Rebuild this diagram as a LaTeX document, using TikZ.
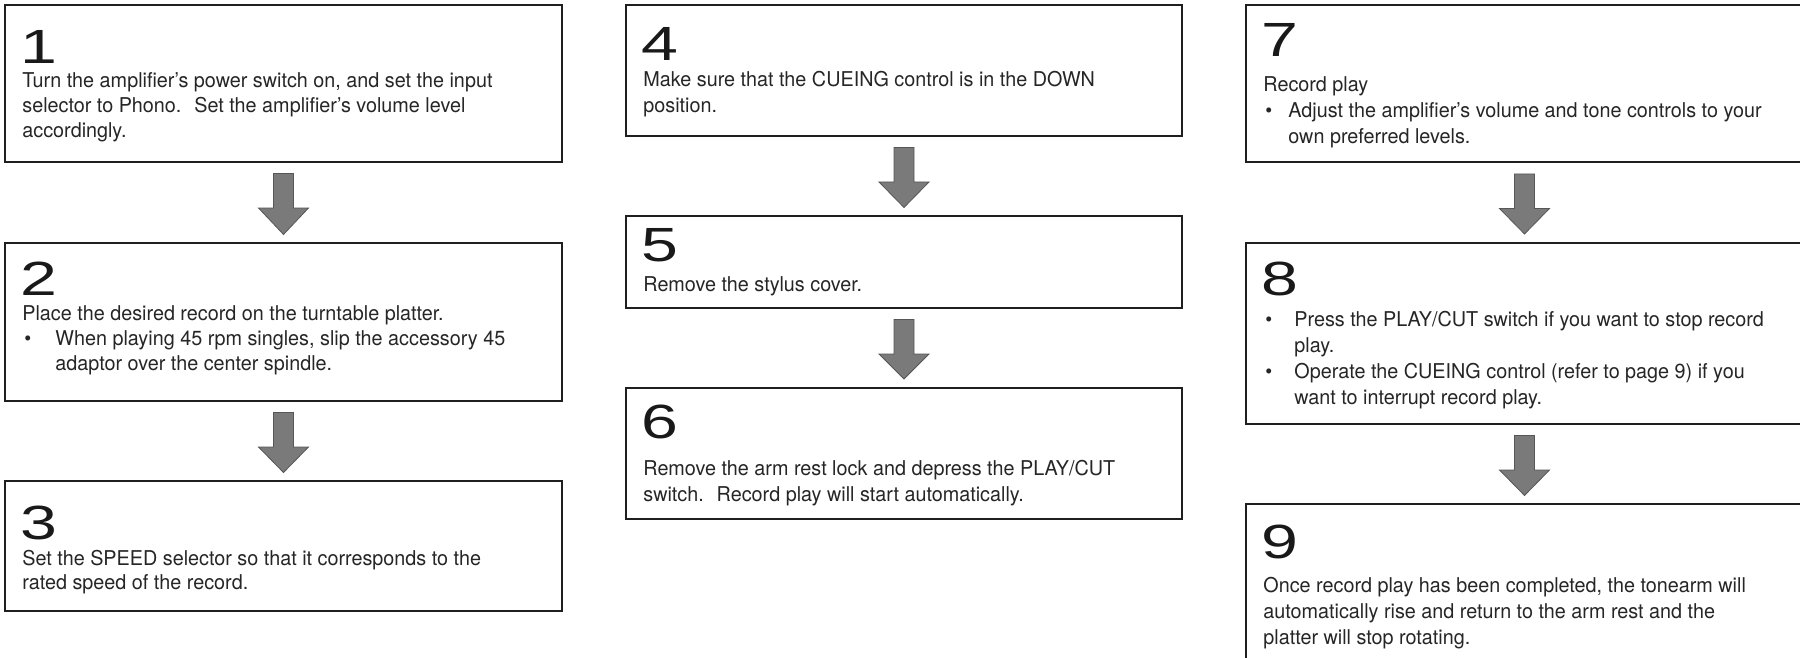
\documentclass[tikz,border=0pt]{standalone}
\usepackage{fontspec}
\setmainfont{TeX Gyre Heros}[FakeStretch=0.97]
\newfontfamily\digitfont{Liberation Sans}[FakeStretch=1.38]
\usetikzlibrary{calc}

\newcommand\Ln[1]{\hbox{#1}}
\newcommand\Bl[2][16.5pt]{\hbox{\makebox[#1][l]{\kern1pt\textbullet}#2}}
\newcommand\Ind[2][16.5pt]{\hbox{\kern#1#2}}
\newcommand\Body[2]{\vtop{\baselineskip=#1\lineskiplimit=-20pt\lineskip=0pt #2}}

\newcommand\barrow[2]{%
  \fill[arrowfill] ($(#1.south)+(-10,11.5)$) -- ($(#1.south)+(10,11.5)$)
    -- ($(#1.south)+(10,46)$) -- ($(#1.south)+(25,46)$)
    -- ($(#2.north)+(0,-8.5)$)
    -- ($(#1.south)+(-25,46)$) -- ($(#1.south)+(-10,46)$) -- cycle;}

\tikzset{
  stepbox/.style={draw=black!88, line width=1pt, rectangle, inner sep=0pt,
    outer sep=0pt, anchor=north west},
  digit/.style={font=\digitfont\fontsize{24}{25}\selectfont, inner sep=0pt,
    anchor=base west, text=black!90},
  bodytext/.style={font=\fontsize{10.2}{12}\selectfont, inner sep=0pt,
    anchor=base west, text=black!85},
  arrowfill/.style={fill=black!52, draw=black!66, line width=0.4pt}
}

\begin{document}
\begin{tikzpicture}[x=0.5pt,y=-0.5pt]
\useasboundingbox (0,0) rectangle (1800,658);
\fill[white] (0,0) rectangle (1800,658);
\clip (0,0) rectangle (1800,658);

% ---------- column 1 ----------
\node[stepbox, minimum width=278.5pt, minimum height=78.5pt] (b1) at (5,5) {};
\node[digit] (n1) at (20,64) {1};
\node[bodytext] (t1) at (22,88) {\Body{12.3pt}{%
  \Ln{Turn the amplifier’s power switch on, and set the input}%
  \Ln{selector to Phono.~ Set the amplifier’s volume level}%
  \Ln{accordingly.}}};

\node[stepbox, minimum width=278.5pt, minimum height=79pt] (b2) at (5,243) {};
\node[digit] (n2) at (20,295) {2};
\node[bodytext] (t2) at (22,320) {\Body{12.5pt}{%
  \Ln{Place the desired record on the turntable platter.}%
  \Bl{When playing 45 rpm singles, slip the accessory 45}%
  \Ind{adaptor over the center spindle.}}};

\node[stepbox, minimum width=278.5pt, minimum height=65pt] (b3) at (5,481) {};
\node[digit] (n3) at (20,539) {3};
\node[bodytext] (t3) at (22,565) {\Body{12pt}{%
  \Ln{Set the SPEED selector so that it corresponds to the}%
  \Ln{rated speed of the record.}}};

% ---------- column 2 ----------
\node[stepbox, minimum width=278pt, minimum height=65.5pt] (b4) at (626,5) {};
\node[digit] (n4) at (641,61) {4};
\node[bodytext] (t4) at (643,87) {\Body{13pt}{%
  \Ln{Make sure that the CUEING control is in the DOWN}%
  \Ln{position.}}};

\node[stepbox, minimum width=278pt, minimum height=46pt] (b5) at (626,216) {};
\node[digit] (n5) at (641,261) {5};
\node[bodytext] (t5) at (643,291) {\Body{13pt}{%
  \Ln{Remove the stylus cover.}}};

\node[stepbox, minimum width=278pt, minimum height=65.75pt] (b6) at (626,387.5) {};
\node[digit] (n6) at (641,438) {6};
\node[bodytext] (t6) at (643,475) {\Body{13pt}{%
  \Ln{Remove the arm rest lock and depress the PLAY/CUT}%
  \Ln{switch.~ Record play will start automatically.}}};

% ---------- column 3 ----------
\node[stepbox, minimum width=278.5pt, minimum height=78.75pt] (b7) at (1246,5) {};
\node[digit] (n7) at (1261,57) {7};
\node[bodytext] (t7) at (1263,92) {\Body{12.9pt}{%
  \Ln{Record play}%
  \Bl[12.5pt]{Adjust the amplifier’s volume and tone controls to your}%
  \Ind[12.5pt]{own preferred levels.}}};

\node[stepbox, minimum width=278.5pt, minimum height=90.75pt] (b8) at (1246,242.5) {};
\node[digit] (n8) at (1261,295) {8};
\node[bodytext] (t8) at (1263,326) {\Body{13pt}{%
  \Bl[15.5pt]{Press the PLAY/CUT switch if you want to stop record}%
  \Ind[15.5pt]{play.}%
  \Bl[15.5pt]{Operate the CUEING control (refer to page 9) if you}%
  \Ind[15.5pt]{want to interrupt record play.}}};

\node[stepbox, minimum width=278.5pt, minimum height=85pt] (b9) at (1246,504) {};
\node[digit] (n9) at (1261,558) {9};
\node[bodytext] (t9) at (1263,592) {\Body{13pt}{%
  \Ln{Once record play has been completed, the tonearm will}%
  \Ln{automatically rise and return to the arm rest and the}%
  \Ln{platter will stop rotating.}}};

% ---------- arrows ----------
\barrow{b1}{b2}
\barrow{b2}{b3}
\barrow{b4}{b5}
\barrow{b5}{b6}
\barrow{b7}{b8}
\barrow{b8}{b9}
\end{tikzpicture}
\end{document}
